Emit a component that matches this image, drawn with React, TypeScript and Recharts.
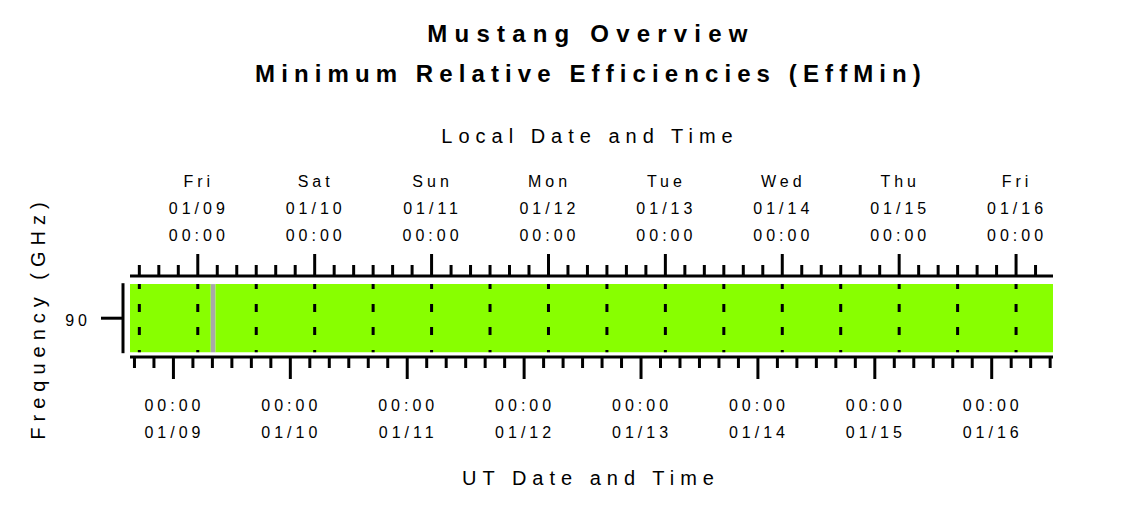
import React from 'react';
import { ComposedChart, XAxis, YAxis, ReferenceArea, ReferenceLine } from 'recharts';

document.body.style.margin = '0';

// all times are UT, 'MM/DD HH:MM' in January
const windowUT = ['01/08 15:05', '01/16 12:35'];
const frequencies = ['90'];
const effSegments = [
  { from: '01/08 15:05', to: '01/09 07:40', state: 'ok' },
  { from: '01/09 07:40', to: '01/09 08:38', state: 'nodata' },
  { from: '01/09 08:38', to: '01/16 12:35', state: 'ok' },
];
const localDays = ['Fri', 'Sat', 'Sun', 'Mon', 'Tue', 'Wed', 'Thu', 'Fri'];
const dayDates = ['01/09', '01/10', '01/11', '01/12', '01/13', '01/14', '01/15', '01/16'];
const utcOffset = -5;

const stateColors: Record<string, string> = { ok: '#88ff00', nodata: '#a8a8a8' };
const ROW_BAND = [0.058, 0.9];
const FONT = '"Liberation Sans", Arial, Helvetica, sans-serif';

const toHours = (s: string) => {
  const [md, hm] = s.split(' ');
  const [, d] = md.split('/').map(Number);
  const [h, mi] = hm.split(':').map(Number);
  return (d - 9) * 24 + h + mi / 60;
};
const mod = (a: number, b: number) => ((a % b) + b) % b;

const tStart = toHours(windowUT[0]);
const tEnd = toHours(windowUT[1]);

const stepTicks = (step: number, shift: number) => {
  const out: number[] = [];
  let t = Math.ceil((tStart + shift) / step) * step - shift;
  for (; t <= tEnd + 0.01; t += step) out.push(t);
  return out;
};
const utTicks = stepTicks(4, 0);
const localTicks = stepTicks(4, utcOffset);
const gridLines = stepTicks(12, utcOffset);

const data = effSegments.map((s) => ({ t: toHours(s.from) })).concat([{ t: tEnd }]);

const tickText = { fontFamily: FONT, fontSize: 16, letterSpacing: 4, fill: '#000' };

const LocalTick = (props: any) => {
  const { x, y, payload } = props;
  const local = payload.value + utcOffset;
  const major = Math.abs(mod(local, 24)) < 0.01;
  const i = Math.round(local / 24);
  return (
    <g>
      <line x1={x} x2={x} y1={y} y2={y - (major ? 22 : 11)} stroke="#000" strokeWidth={3} />
      {major && (
        <text textAnchor="middle" dominantBaseline="central" {...tickText}>
          <tspan x={x + 1} y={y - 95}>{localDays[i]}</tspan>
          <tspan x={x + 1} y={y - 68}>{dayDates[i]}</tspan>
          <tspan x={x + 1} y={y - 41}>00:00</tspan>
        </text>
      )}
    </g>
  );
};

const UtTick = (props: any) => {
  const { x, y, payload } = props;
  const major = Math.abs(mod(payload.value, 24)) < 0.01;
  const i = Math.round(payload.value / 24);
  return (
    <g>
      <line x1={x} x2={x} y1={y} y2={y + (major ? 22 : 11)} stroke="#000" strokeWidth={3} />
      {major && (
        <text textAnchor="middle" dominantBaseline="central" {...tickText}>
          <tspan x={x + 1} y={y + 48}>00:00</tspan>
          <tspan x={x + 1} y={y + 75}>{dayDates[i]}</tspan>
        </text>
      )}
    </g>
  );
};

const FreqTick = (props: any) => {
  const { x, y, index } = props;
  return (
    <g>
      {index === 0 && <line x1={x - 7} x2={x - 7} y1={y - 35} y2={y + 35} stroke="#000" strokeWidth={3} />}
      <line x1={x - 29} x2={x - 7} y1={y} y2={y} stroke="#000" strokeWidth={3} />
      <text x={x - 39} y={y + 2} textAnchor="end" dominantBaseline="central" {...tickText}>
        {frequencies[index]}
      </text>
    </g>
  );
};

const Label = ({ text, x, y, size, bold, ls, rotate }: any) => (
  <div
    style={{
      position: 'absolute',
      left: x,
      top: y,
      transform: `translate(-50%, -50%)${rotate ? ' rotate(-90deg)' : ''}`,
      fontFamily: FONT,
      fontSize: size,
      fontWeight: bold ? 'bold' : 'normal',
      letterSpacing: ls,
      lineHeight: 1,
      whiteSpace: 'nowrap',
      color: '#000',
    }}
  >
    {text}
  </div>
);

export default function App() {
  const rowCenter = (ROW_BAND[0] + ROW_BAND[1]) / 2;
  return (
    <div style={{ position: 'relative', width: 1125, height: 506, background: '#fff' }}>
      <ComposedChart
        width={1125}
        height={506}
        data={data}
        margin={{ top: 246, right: 72, bottom: 119, left: 70 }}
      >
        <XAxis
          xAxisId="local"
          orientation="top"
          type="number"
          dataKey="t"
          domain={[tStart, tEnd]}
          allowDataOverflow
          ticks={localTicks}
          interval={0}
          height={30}
          tickSize={0}
          tickMargin={0}
          tickLine={false}
          axisLine={{ stroke: '#000', strokeWidth: 3 }}
          tick={<LocalTick />}
        />
        <XAxis
          xAxisId="ut"
          orientation="bottom"
          type="number"
          dataKey="t"
          domain={[tStart, tEnd]}
          allowDataOverflow
          ticks={utTicks}
          interval={0}
          height={30}
          tickSize={0}
          tickMargin={0}
          tickLine={false}
          axisLine={{ stroke: '#000', strokeWidth: 3 }}
          tick={<UtTick />}
        />
        <YAxis
          yAxisId="f"
          type="number"
          domain={[0, 1]}
          allowDataOverflow
          ticks={[rowCenter]}
          interval={0}
          width={60}
          tickSize={0}
          tickMargin={0}
          tickLine={false}
          axisLine={false}
          tick={<FreqTick />}
        />
        {effSegments.map((s, i) => (
          <ReferenceArea
            key={i}
            xAxisId="ut"
            yAxisId="f"
            x1={toHours(s.from)}
            x2={toHours(s.to)}
            y1={ROW_BAND[0]}
            y2={ROW_BAND[1]}
            fill={stateColors[s.state]}
            fillOpacity={1}
            stroke="none"
            isAnimationActive={false}
          />
        ))}
        {gridLines.map((t) => (
          <ReferenceLine
            key={t}
            xAxisId="ut"
            yAxisId="f"
            segment={[{ x: t, y: ROW_BAND[1] }, { x: t, y: ROW_BAND[0] }]}
            stroke="#000"
            strokeWidth={3}
            strokeDasharray="8 15"
            strokeDashoffset={3}
          />
        ))}
      </ComposedChart>
      <Label text="Mustang Overview" x={591} y={34} size={24} bold ls={7.2} />
      <Label text="Minimum Relative Efficiencies (EffMin)" x={591} y={74} size={24} bold ls={6.1} />
      <Label text="Local Date and Time" x={590} y={136} size={20} ls={6} />
      <Label text="UT Date and Time" x={591} y={478} size={20} ls={6} />
      <Label text="Frequency (GHz)" x={38} y={318} size={20} ls={6} rotate />
    </div>
  );
}
